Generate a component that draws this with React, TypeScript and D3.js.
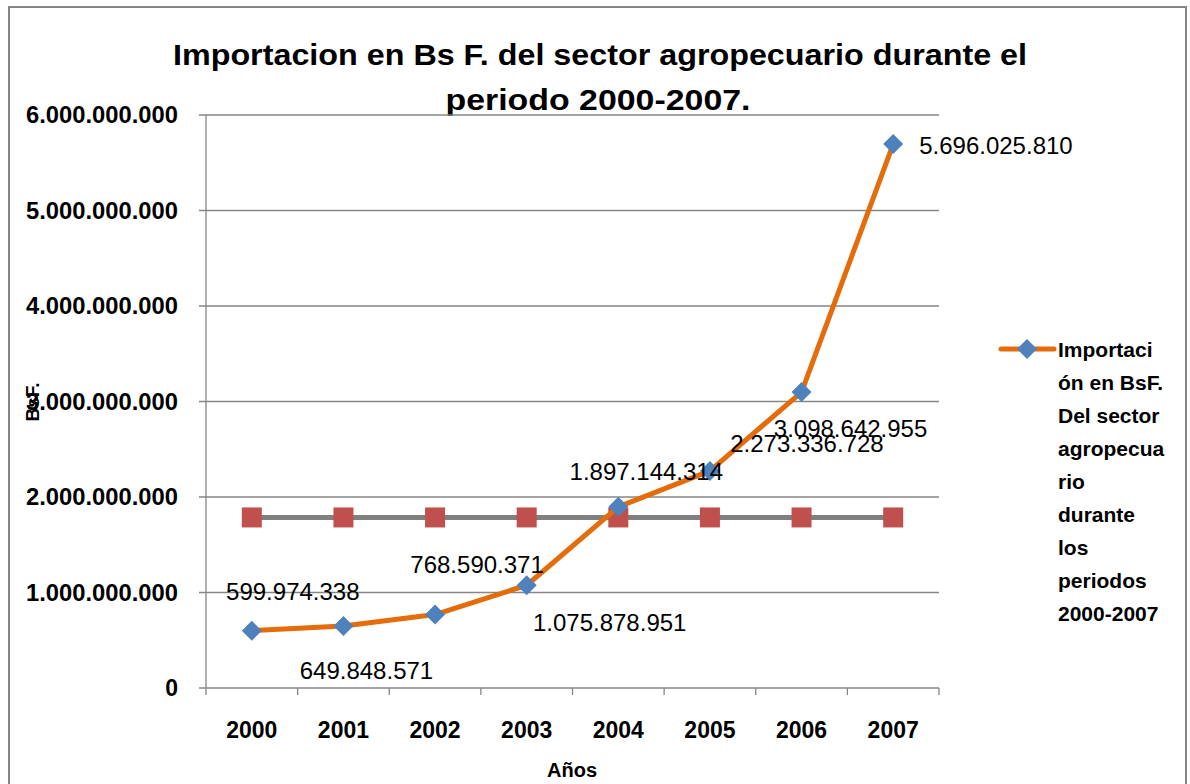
import React from "react";
import * as d3 from "d3";

const years = ["2000", "2001", "2002", "2003", "2004", "2005", "2006", "2007"];
const importValues = [599974338, 649848571, 768590371, 1075878951, 1897144314, 2273336728, 3098642955, 5696025810];
const importLabels = ["599.974.338", "649.848.571", "768.590.371", "1.075.878.951", "1.897.144.314", "2.273.336.728", "3.098.642.955", "5.696.025.810"];
const referenceValues = [1786000000, 1786000000, 1786000000, 1786000000, 1786000000, 1786000000, 1786000000, 1786000000];
const yTicks = [0, 1000000000, 2000000000, 3000000000, 4000000000, 5000000000, 6000000000];
const yTickLabels = ["0", "1.000.000.000", "2.000.000.000", "3.000.000.000", "4.000.000.000", "5.000.000.000", "6.000.000.000"];
const legendLines = ["Importaci", "ón en BsF.", "Del sector", "agropecua", "rio", "durante", "los", "periodos", "2000-2007"];

// label offsets (from the point) as in the original chart
const labelOffsets: [number, number, string][] = [
  [41, -39, "middle"],
  [23, 44, "middle"],
  [42, -50, "middle"],
  [83, 37, "middle"],
  [28, -35, "middle"],
  [97, -28, "middle"],
  [49, 36, "middle"],
  [26, 1, "start"],
];

const FONT = "'Liberation Sans', Arial, sans-serif";

export default function App() {
  const W = 1190, H = 784;
  const left = 206, right = 939, top = 115, bottom = 688;
  const x = d3.scaleBand<string>().domain(years).range([left, right]);
  const y = d3.scaleLinear().domain([0, 6000000000]).range([bottom, top]);
  const cx = (d: string) => (x(d) as number) + x.bandwidth() / 2;

  const line = d3.line<number>().x((_, i) => cx(years[i])).y((v) => y(v));
  const grid = "#868686";

  return (
    <div style={{ position: "fixed", left: 0, top: 0, width: W, height: H, background: "#fff" }}>
      <svg width={W} height={H} style={{ display: "block" }}>
        <rect x={9} y={7} width={1177} height={H + 10} fill="#fff" stroke="#868686" strokeWidth={2} />
        {/* Title */}
        <text x={600} y={65} textAnchor="middle" fontFamily={FONT} fontWeight="bold" fontSize={30} textLength={854} lengthAdjust="spacingAndGlyphs" fill="#000">
          Importacion en Bs F. del sector agropecuario durante el
        </text>
        <text x={598} y={110} textAnchor="middle" fontFamily={FONT} fontWeight="bold" fontSize={30} textLength={305} lengthAdjust="spacingAndGlyphs" fill="#000">
          periodo 2000-2007.
        </text>

        {/* Gridlines + y ticks */}
        {yTicks.map((t, i) => (
          <g key={t}>
            <line x1={199} x2={right} y1={y(t)} y2={y(t)} stroke={grid} strokeWidth={1.3} />
            <text x={178} y={y(t)} dy="0.36em" textAnchor="end" fontFamily={FONT} fontWeight="bold" fontSize={23} fill="#000" textLength={t === 0 ? undefined : 152} lengthAdjust="spacingAndGlyphs">
              {yTickLabels[i]}
            </text>
          </g>
        ))}
        {/* Y axis */}
        <line x1={left} x2={left} y1={top} y2={bottom} stroke={grid} strokeWidth={1.3} />
        {/* X axis ticks */}
        {years.map((d) => (
          <line key={"t" + d} x1={x(d) as number} x2={x(d) as number} y1={bottom} y2={bottom + 7} stroke={grid} strokeWidth={1.3} />
        ))}
        <line x1={right} x2={right} y1={bottom} y2={bottom + 7} stroke={grid} strokeWidth={1.3} />
        {years.map((d) => (
          <text key={"l" + d} x={cx(d)} y={738} textAnchor="middle" fontFamily={FONT} fontWeight="bold" fontSize={23} fill="#000">
            {d}
          </text>
        ))}
        <text x={572} y={777} textAnchor="middle" fontFamily={FONT} fontWeight="bold" fontSize={20} fill="#000">
          Años
        </text>
        <text transform={`translate(39,402) rotate(-90)`} textAnchor="middle" fontFamily={FONT} fontWeight="bold" fontSize={19} fill="#000">
          BsF.
        </text>

        {/* Reference series */}
        <path d={line(referenceValues) || ""} fill="none" stroke="#808080" strokeWidth={5} />
        {referenceValues.map((v, i) => (
          <rect key={"s" + i} x={cx(years[i]) - 10} y={y(v) - 10} width={20} height={20} fill="#C0504D" />
        ))}

        {/* Main series */}
        <path d={line(importValues) || ""} fill="none" stroke="#E46C0A" strokeWidth={5} strokeLinejoin="round" />
        {importValues.map((v, i) => {
          const px = cx(years[i]), py = y(v);
          return <path key={"d" + i} d={`M${px},${py - 10}L${px + 10},${py}L${px},${py + 10}L${px - 10},${py}Z`} fill="#4F81BD" />;
        })}
        {importValues.map((v, i) => {
          const [dx, dy, anchor] = labelOffsets[i];
          return (
            <text key={"v" + i} x={cx(years[i]) + dx} y={y(v) + dy} dy="0.36em" textAnchor={anchor as any} fontFamily={FONT} fontSize={24} fill="#000">
              {importLabels[i]}
            </text>
          );
        })}

        {/* Legend */}
        <line x1={1001} x2={1054} y1={349} y2={349} stroke="#E46C0A" strokeWidth={5} strokeLinecap="round" />
        <path d={`M1027,339L1037,349L1027,359L1017,349Z`} fill="#4F81BD" />
        {legendLines.map((t, i) => (
          <text key={"g" + i} x={1058} y={349 + i * 33} dy="0.36em" fontFamily={FONT} fontWeight="bold" fontSize={21} fill="#000">
            {t}
          </text>
        ))}
      </svg>
    </div>
  );
}
